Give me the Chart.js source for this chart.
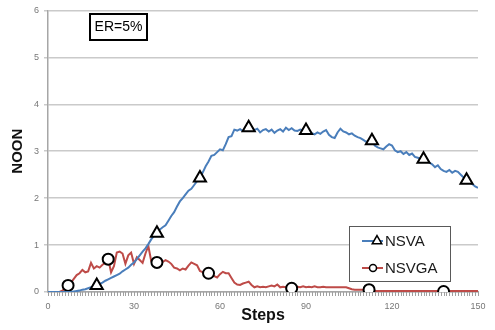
<!DOCTYPE html>
<html>
<head>
<meta charset="utf-8">
<script src="https://cdn.jsdelivr.net/npm/chart.js@4.4.0/dist/chart.umd.min.js"></script>
<style>
  html, body { margin: 0; padding: 0; background: #fff; }
</style>
</head>
<body>
<canvas id="noonChart" width="495" height="330"></canvas>
<script>
const steps = Array.from({ length: 151 }, (_, i) => i);

const nsva = [
  0, 0, 0, 0, 0, 0, 0, 0, 0,
  0.01, 0.02, 0.03, 0.05, 0.06, 0.08, 0.10, 0.12, 0.14,
  0.17, 0.20, 0.24, 0.27, 0.30, 0.33, 0.36, 0.39, 0.44,
  0.48, 0.52, 0.58, 0.63, 0.70, 0.78, 0.86, 0.93, 1.02,
  1.12, 1.20, 1.25, 1.33, 1.38, 1.42, 1.52, 1.62, 1.70,
  1.82, 1.93, 2.00, 2.08, 2.16, 2.20, 2.28, 2.36, 2.43,
  2.55, 2.68, 2.78, 2.90, 2.92, 2.98, 3.04, 3.02, 3.15,
  3.30, 3.32, 3.46, 3.44, 3.47, 3.43, 3.48, 3.50, 3.50,
  3.45, 3.48, 3.40, 3.45, 3.47, 3.42, 3.46, 3.39, 3.44,
  3.47, 3.42, 3.50, 3.45, 3.49, 3.44, 3.43, 3.46, 3.44,
  3.44, 3.37, 3.38, 3.36, 3.40, 3.37, 3.42, 3.45, 3.35,
  3.30, 3.28, 3.40, 3.48, 3.42, 3.40, 3.36, 3.38, 3.33,
  3.30, 3.28, 3.24, 3.20, 3.23, 3.22, 3.12, 3.08, 3.06,
  3.04, 3.10, 3.15, 3.12, 3.02, 2.98, 3.00, 2.94, 2.98,
  2.92, 2.95, 2.88, 2.86, 2.84, 2.83, 2.80, 2.76, 2.72,
  2.66, 2.70, 2.62, 2.58, 2.56, 2.60, 2.54, 2.58, 2.56,
  2.50, 2.44, 2.38, 2.34, 2.30, 2.25, 2.22
];

const nsvga = [
  0, 0, 0, 0, 0, 0.03, 0.08, 0.14, 0.20,
  0.28, 0.36, 0.40, 0.47, 0.42, 0.44, 0.62, 0.50, 0.55,
  0.52, 0.58, 0.62, 0.70, 0.42, 0.55, 0.84, 0.86, 0.82,
  0.60, 0.78, 0.84, 0.60, 0.74, 0.68, 0.62, 0.82, 0.98,
  0.66, 0.64, 0.63, 0.66, 0.64, 0.68, 0.65, 0.60, 0.52,
  0.50, 0.46, 0.50, 0.48, 0.56, 0.63, 0.60, 0.57, 0.45,
  0.42, 0.44, 0.40, 0.38, 0.34, 0.31, 0.38, 0.43, 0.40,
  0.40, 0.30, 0.20, 0.16, 0.15, 0.18, 0.20, 0.22, 0.15,
  0.10, 0.12, 0.10, 0.11, 0.10, 0.12, 0.14, 0.12, 0.16,
  0.10, 0.11, 0.10, 0.09, 0.08, 0.09, 0.11, 0.10, 0.12,
  0.10, 0.11, 0.10, 0.12, 0.10, 0.10, 0.11, 0.10, 0.10,
  0.10, 0.10, 0.10, 0.10, 0.10, 0.10, 0.08, 0.06, 0.05,
  0.05, 0.05, 0.05, 0.05, 0.05, 0.04, 0.02, 0.02, 0.02,
  0.02, 0.02, 0.02, 0.02, 0.02, 0.02, 0.02, 0.02, 0.02,
  0.02, 0.02, 0.02, 0.02, 0.02, 0.02, 0.02, 0.02, 0.02,
  0.02, 0.02, 0.02, 0.01, 0.02, 0.02, 0.02, 0.02, 0.02,
  0.02, 0.02, 0.02, 0.02, 0.02, 0.02, 0.02
];

// steps that carry a marker on each curve
const nsvaMarkers = [17, 38, 53, 70, 90, 113, 131, 146];
const nsvgaMarkers = [7, 21, 38, 56, 85, 112, 138];

const xTicks = [0, 30, 60, 90, 120, 150];
const yTicks = [0, 1, 2, 3, 4, 5, 6];
const seriesNames = ["NSVA", "NSVGA"];
const erLabel = "ER=5%";

const FONT = '"Liberation Sans", Arial, sans-serif';
const BLUE = "#4a7ebb";
const RED = "#be4b48";

function toPoints(values) {
  return values.map((v, i) => ({ x: steps[i], y: v }));
}

function markerRadius(list, r) {
  return (ctx) => (list.includes(ctx.dataIndex) ? r : 0);
}

// small tick under the x axis for every step
const stepTicks = {
  id: "stepTicks",
  afterDraw(chart) {
    const ctx = chart.ctx;
    const xs = chart.scales.x;
    const bottom = chart.chartArea.bottom;
    ctx.save();
    ctx.strokeStyle = "#a0a0a0";
    ctx.lineWidth = 1;
    ctx.beginPath();
    steps.forEach((s) => {
      const px = Math.round(xs.getPixelForValue(s)) + 0.5;
      ctx.moveTo(px, bottom);
      ctx.lineTo(px, bottom + 4);
    });
    ctx.stroke();
    ctx.restore();
  },
};

// ER box and the legend sit inside the plot area
const overlayBoxes = {
  id: "overlayBoxes",
  afterDatasetsDraw(chart) {
    const ctx = chart.ctx;
    ctx.save();

    ctx.fillStyle = "#fff";
    ctx.fillRect(90, 14, 57, 26);
    ctx.strokeStyle = "#000";
    ctx.lineWidth = 2;
    ctx.strokeRect(90, 14, 57, 26);
    ctx.fillStyle = "#000";
    ctx.font = "14px " + FONT;
    ctx.textAlign = "center";
    ctx.textBaseline = "middle";
    ctx.fillText(erLabel, 118.5, 27.5);

    ctx.fillStyle = "#fff";
    ctx.fillRect(349.5, 226.5, 101, 55);
    ctx.strokeStyle = "#595959";
    ctx.lineWidth = 1;
    ctx.strokeRect(349.5, 226.5, 101, 55);

    const rows = [
      { name: seriesNames[0], color: BLUE, style: "triangle", r: 5.5, y: 241, mx: 377 },
      { name: seriesNames[1], color: RED, style: "circle", r: 3.5, y: 268, mx: 373 },
    ];
    rows.forEach((row) => {
      ctx.strokeStyle = row.color;
      ctx.lineWidth = 2;
      ctx.beginPath();
      ctx.moveTo(362, row.y);
      ctx.lineTo(383, row.y);
      ctx.stroke();

      ctx.fillStyle = "#fff";
      ctx.strokeStyle = "#000";
      ctx.lineWidth = 1.5;
      Chart.helpers.drawPoint(ctx, { pointStyle: row.style, radius: row.r, rotation: 0, borderWidth: 1.5 }, row.mx, row.y);

      ctx.fillStyle = "#1a1a1a";
      ctx.font = "15px " + FONT;
      ctx.textAlign = "left";
      ctx.textBaseline = "middle";
      ctx.fillText(row.name, 385, row.y + 0.5);
    });

    ctx.restore();
  },
};

const ctx = document.getElementById("noonChart").getContext("2d");

new Chart(ctx, {
  type: "line",
  data: {
    datasets: [
      {
        label: seriesNames[1],
        data: toPoints(nsvga),
        borderColor: RED,
        borderWidth: 2,
        pointStyle: "circle",
        pointRadius: markerRadius(nsvgaMarkers, 5.5),
        pointBackgroundColor: "#fff",
        pointBorderColor: "#000",
        pointBorderWidth: 2,
        order: 2,
      },
      {
        label: seriesNames[0],
        data: toPoints(nsva),
        borderColor: BLUE,
        borderWidth: 2,
        pointStyle: "triangle",
        pointRadius: markerRadius(nsvaMarkers, 7),
        pointBackgroundColor: "#fff",
        pointBorderColor: "#000",
        pointBorderWidth: 2,
        order: 1,
      },
    ],
  },
  options: {
    responsive: false,
    animation: false,
    events: [],
    layout: { padding: { top: 6, right: 17, left: 0, bottom: 0 } },
    elements: { line: { tension: 0 } },
    plugins: {
      legend: { display: false },
      tooltip: { enabled: false },
    },
    scales: {
      x: {
        type: "linear",
        min: xTicks[0],
        max: xTicks[xTicks.length - 1],
        ticks: {
          stepSize: 30,
          maxRotation: 0,
          minRotation: 0,
          padding: 5,
          color: "#777",
          font: { family: FONT, size: 9 },
        },
        grid: { drawOnChartArea: false, color: "#a0a0a0", tickLength: 4 },
        border: { color: "#a6a6a6", width: 1.5 },
        title: {
          display: true,
          text: "Steps",
          color: "#111",
          font: { family: FONT, size: 16, weight: "bold" },
          padding: { top: 0, bottom: 5 },
        },
        afterFit: (scale) => {
          scale.height = 38;
        },
      },
      y: {
        min: yTicks[0],
        max: yTicks[yTicks.length - 1],
        ticks: {
          stepSize: 1,
          padding: 5,
          color: "#777",
          font: { family: FONT, size: 9 },
        },
        grid: { color: "#cacaca", lineWidth: 1.5, tickLength: 4 },
        border: { color: "#a6a6a6", width: 1.5 },
        title: {
          display: true,
          text: "NOON",
          color: "#111",
          font: { family: FONT, size: 15, weight: "bold" },
          padding: { top: 9, bottom: 0 },
        },
        afterFit: (scale) => {
          scale.width = 48;
        },
      },
    },
  },
  plugins: [stepTicks, overlayBoxes],
});
</script>
</body>
</html>
